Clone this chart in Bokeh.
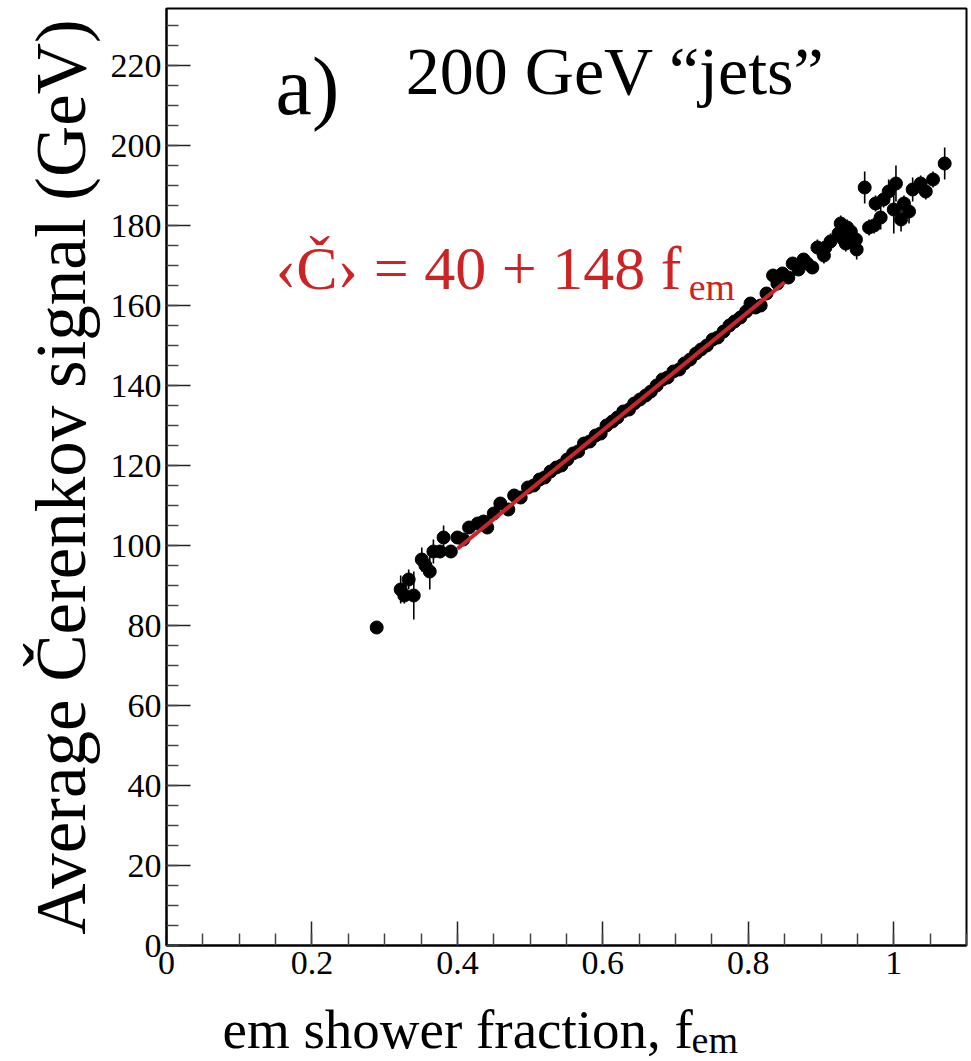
from bokeh.plotting import figure
from bokeh.layouts import column
from bokeh.models import FixedTicker, Label, Range1d, ColumnDataSource
from bokeh.embed import file_html
from bokeh.resources import INLINE

# em shower fraction bins and average Cerenkov signal (GeV) with uncertainties
f_em = [
    0.289, 0.322, 0.327, 0.333, 0.340, 0.351, 0.356, 0.362, 0.367, 0.376,
    0.381, 0.391, 0.400, 0.408, 0.416, 0.428, 0.436, 0.441, 0.450, 0.459,
    0.470, 0.478, 0.487, 0.497, 0.505, 0.513, 0.520, 0.528, 0.536, 0.543,
    0.551, 0.559, 0.566, 0.574, 0.582, 0.590, 0.597, 0.605, 0.613, 0.620,
    0.628, 0.636, 0.643, 0.651, 0.659, 0.666, 0.674, 0.682, 0.689, 0.697,
    0.705, 0.712, 0.720, 0.728, 0.735, 0.743, 0.751, 0.758, 0.766, 0.774,
    0.781, 0.789, 0.797, 0.803, 0.810, 0.817, 0.825, 0.834, 0.840, 0.847,
    0.855, 0.861, 0.869, 0.876, 0.881, 0.888, 0.895, 0.904, 0.906, 0.913,
    0.924, 0.927, 0.931, 0.934, 0.936, 0.941, 0.948, 0.949, 0.960, 0.966,
    0.973, 0.975, 0.982, 0.986, 0.993, 1.000, 1.003, 1.010, 1.014, 1.021,
    1.026, 1.037, 1.044, 1.054, 1.070,
]
c_mean = [
    79.5, 89.0, 87.5, 91.5, 87.5, 96.5, 95.0, 93.5, 98.5, 98.5,
    102.0, 98.5, 102.0, 101.5, 104.5, 105.5, 106.0, 104.5, 108.0, 110.5,
    109.0, 112.5, 112.0, 114.5, 115.0, 116.5, 117.0, 118.5, 119.5, 120.0,
    121.5, 123.0, 123.5, 125.5, 126.0, 127.5, 128.0, 130.0, 131.0, 132.0,
    133.5, 134.0, 135.5, 136.5, 137.5, 138.5, 140.0, 141.5, 142.0, 143.5,
    144.0, 145.5, 146.5, 148.0, 149.0, 150.0, 151.5, 152.0, 153.5, 155.0,
    156.0, 157.0, 158.5, 160.5, 159.5, 160.0, 163.0, 167.5, 165.5, 168.0,
    167.0, 170.5, 169.0, 171.5, 170.5, 169.5, 174.5, 172.5, 174.5, 176.0,
    178.0, 180.5, 176.5, 175.5, 179.5, 178.5, 176.5, 174.0, 189.5, 179.5,
    180.0, 185.5, 182.0, 186.5, 188.5, 184.0, 190.5, 181.5, 185.5, 183.5,
    189.0, 190.5, 188.5, 191.5, 195.5,
]
c_err = [
    0.8, 3.5, 2.0, 2.5, 6.0, 3.0, 1.5, 4.5, 3.0, 1.5,
    3.0, 1.5, 1.5, 1.2, 1.2, 1.0, 1.0, 1.0, 1.0, 1.0,
    1.0, 1.0, 1.0, 1.0, 0.8, 0.8, 0.8, 0.8, 0.8, 0.8,
    0.8, 0.8, 0.8, 0.8, 0.8, 0.8, 0.8, 0.8, 0.8, 0.8,
    0.8, 0.8, 0.8, 0.8, 0.8, 0.8, 0.8, 0.8, 0.8, 0.8,
    0.8, 0.8, 0.8, 0.8, 0.8, 0.8, 0.8, 0.8, 0.8, 0.8,
    0.8, 0.8, 1.0, 1.0, 1.0, 1.0, 1.2, 1.2, 1.2, 1.2,
    1.5, 1.5, 1.5, 1.5, 1.5, 1.5, 2.0, 2.0, 2.0, 2.0,
    2.0, 2.0, 2.0, 2.0, 2.0, 2.0, 2.5, 2.5, 4.0, 2.0,
    2.0, 2.0, 3.0, 2.0, 3.0, 6.0, 4.5, 3.0, 2.0, 3.0,
    3.0, 2.0, 2.0, 2.0, 4.0,
]

# linear fit <C> = a + b * f_em over the fitted interval
fit_intercept = 40.0
fit_slope = 148.0
fit_range = [0.40, 0.85]

x_ticks = [0, 0.2, 0.4, 0.6, 0.8, 1.0]
x_tick_labels = ["0", "0.2", "0.4", "0.6", "0.8", "1"]
y_ticks = [0, 20, 40, 60, 80, 100, 120, 140, 160, 180, 200, 220]
y_tick_labels = ["0", "20", "40", "60", "80", "100", "120", "140", "160", "180", "200", "220"]

SERIF = "Liberation Serif"
RED = "#cc2424"

x_range = Range1d(0, 1.1)

p = figure(
    width=971, height=1000, output_backend="svg", toolbar_location=None,
    x_range=x_range, y_range=Range1d(0, 234.25),
    min_border_left=166, min_border_right=5, min_border_top=8, min_border_bottom=55,
)
p.background_fill_color = "white"
p.border_fill_color = "white"
p.outline_line_color = "black"
p.outline_line_width = 2
p.xgrid.visible = False
p.ygrid.visible = False

p.xaxis.ticker = FixedTicker(ticks=x_ticks, minor_ticks=[i * 0.05 for i in range(23)])
p.yaxis.ticker = FixedTicker(ticks=y_ticks, minor_ticks=[i * 5 for i in range(47)])
p.xaxis.major_label_overrides = dict(zip(x_ticks, x_tick_labels))
p.yaxis.major_label_overrides = dict(zip(y_ticks, y_tick_labels))

for ax in (p.xaxis, p.yaxis):
    ax.axis_line_color = "black"
    ax.axis_line_width = 2
    ax.major_tick_line_color = "#222222"
    ax.minor_tick_line_color = "#444444"
    ax.major_tick_line_width = 1.5
    ax.minor_tick_line_width = 1.5
    ax.major_tick_in = 24
    ax.major_tick_out = 0
    ax.minor_tick_in = 12
    ax.minor_tick_out = 0
    ax.major_label_text_font = SERIF
    ax.major_label_text_font_size = "34px"
    ax.major_label_text_color = "black"

p.xaxis.major_label_standoff = 6
p.yaxis.major_label_standoff = 5

p.yaxis.axis_label = "Average Čerenkov signal (GeV)"
p.yaxis.axis_label_text_font = SERIF
p.yaxis.axis_label_text_font_style = "normal"
p.yaxis.axis_label_text_font_size = "71px"
p.yaxis.axis_label_text_color = "black"
p.yaxis.axis_label_standoff = 8

src = ColumnDataSource(dict(
    x=f_em, y=c_mean,
    lo=[m - e for m, e in zip(c_mean, c_err)],
    hi=[m + e for m, e in zip(c_mean, c_err)],
))

# error bars, then markers
p.segment(x0="x", y0="lo", x1="x", y1="hi", source=src, line_color="black", line_width=1.6)
p.scatter(x="x", y="y", source=src, size=13, marker="circle",
          fill_color="black", line_color="black")

# fitted line
p.line(x=fit_range, y=[fit_intercept + fit_slope * f for f in fit_range],
       line_color="#c8262b", line_width=4)

# panel tag and beam description
p.add_layout(Label(x=0.15, y=214.75, text="a)", text_font=SERIF, text_font_size="82px",
                   text_color="black", text_baseline="alphabetic"))
p.add_layout(Label(x=0.329, y=218.75, text="200 GeV “jets”", text_font=SERIF,
                   text_font_size="68px", text_color="black", text_baseline="alphabetic"))

# fit result annotation
p.add_layout(Label(x=0.15, y=169.5, text="‹Č› = 40 + 148 f", text_font=SERIF,
                   text_font_size="62px", text_color=RED, text_baseline="alphabetic"))
p.add_layout(Label(x=0.718, y=164.75, text="em", text_font=SERIF,
                   text_font_size="38px", text_color=RED, text_baseline="alphabetic"))

# x axis title strip (with the f_em subscript); shares the x scale of the plot above
t = figure(
    width=971, height=61, output_backend="svg", toolbar_location=None,
    x_range=x_range, y_range=Range1d(0, 61),
    x_axis_type=None, y_axis_type=None,
    min_border_left=166, min_border_right=5, min_border_top=0, min_border_bottom=0,
)
t.outline_line_color = None
t.xgrid.visible = False
t.ygrid.visible = False
t.background_fill_color = "white"
t.border_fill_color = "white"
t.add_layout(Label(x=0.077, y=32, text="em shower fraction, f", text_font=SERIF,
                   text_font_size="55px", text_color="black", text_baseline="alphabetic"))
t.add_layout(Label(x=0.722, y=22, text="em", text_font=SERIF,
                   text_font_size="38px", text_color="black", text_baseline="alphabetic"))

layout = column(p, t, spacing=0)
open("out.html", "w").write(file_html(layout, INLINE))
